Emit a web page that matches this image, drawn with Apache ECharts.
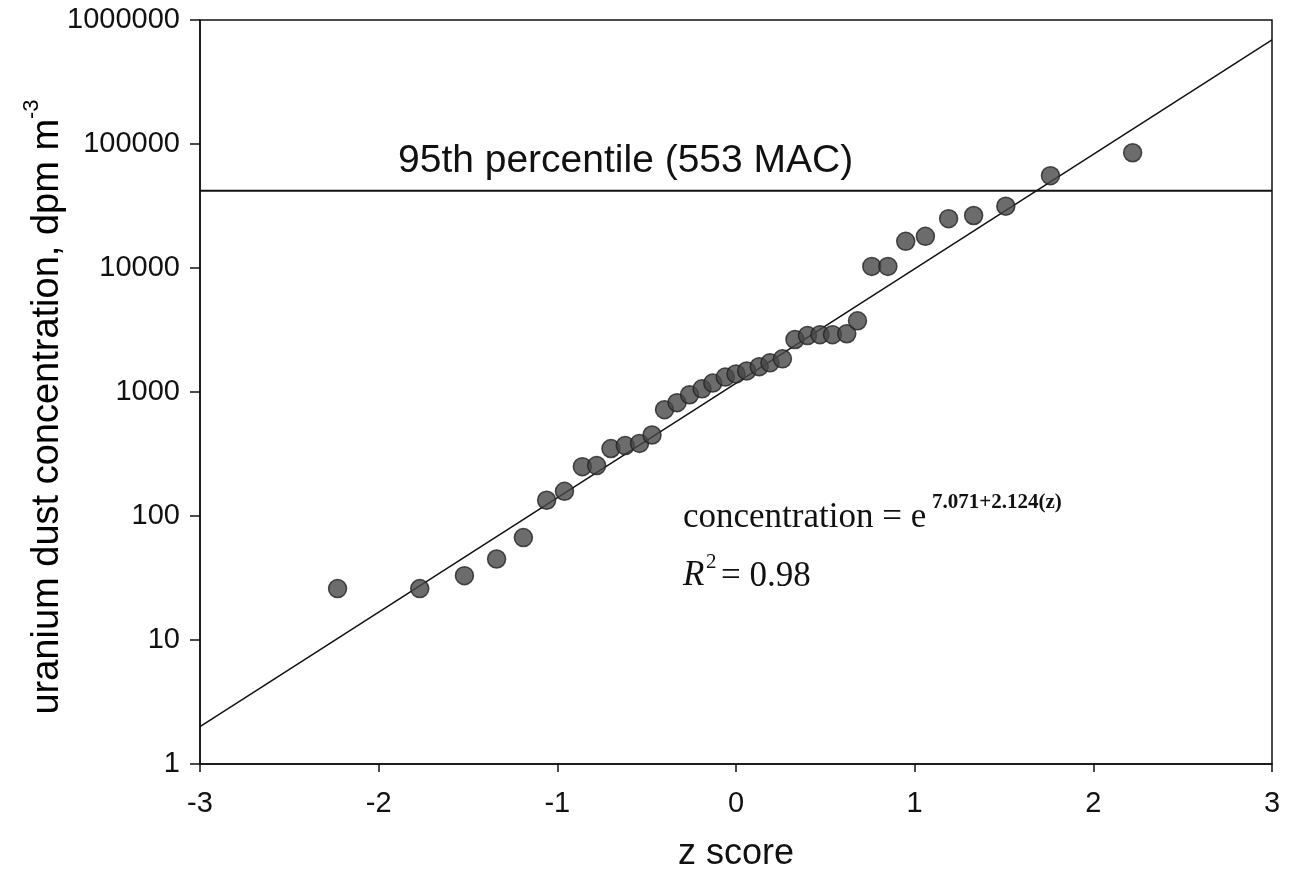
<!DOCTYPE html>
<html>
<head>
<meta charset="utf-8">
<title>uranium dust concentration vs z score</title>
<script src="https://cdn.jsdelivr.net/npm/echarts@6/dist/echarts.min.js"></script>
<style>
  html, body { margin: 0; padding: 0; background: #fff; }
  #chart { width: 1301px; height: 877px; }
</style>
</head>
<body>
<div id="chart"></div>
<script>
// normal scores of the samples (x) and measured concentrations (y)
var zScore = [-2.23, -1.77, -1.52, -1.34, -1.19, -1.06, -0.96, -0.86, -0.78, -0.70,
  -0.62, -0.54, -0.47, -0.40, -0.33, -0.26, -0.19, -0.13, -0.06, 0.00,
  0.06, 0.13, 0.19, 0.26, 0.33, 0.40, 0.47, 0.54, 0.62, 0.68,
  0.76, 0.85, 0.95, 1.06, 1.19, 1.33, 1.51, 1.76, 2.22];
var concentration = [26, 26, 33, 45, 67, 134, 158, 250, 255, 350,
  370, 385, 450, 720, 820, 950, 1060, 1180, 1320, 1400,
  1480, 1600, 1720, 1850, 2650, 2850, 2900, 2900, 2950, 3750,
  10300, 10300, 16400, 18000, 25000, 26500, 31500, 55500, 85000];

// fitted line end points
var fitZ = [-3, 3];
var fitConc = [2.0, 690000];

// 95th percentile level
var p95Z = [-3, 3];
var p95Conc = [42000, 42000];

var xTicks = [-3, -2, -1, 0, 1, 2, 3];
var yTicks = [1, 10, 100, 1000, 10000, 100000, 1000000];

var scatterData = zScore.map(function (z, i) { return [z, concentration[i]]; });
var fitData = fitZ.map(function (z, i) { return [z, fitConc[i]]; });
var p95Data = p95Z.map(function (z, i) { return [z, p95Conc[i]]; });

var sans = '"Liberation Sans", Arial, sans-serif';
var serif = '"Liberation Serif", "Times New Roman", serif';

var myChart = echarts.init(document.getElementById('chart'));
myChart.setOption({
  animation: false,
  backgroundColor: '#fff',
  grid: {
    left: 200,
    right: 29,
    top: 20,
    bottom: 107,
    show: true,
    borderColor: '#111',
    borderWidth: 1.5
  },
  xAxis: {
    type: 'value',
    min: -3,
    max: 3,
    interval: 1,
    name: 'z score',
    nameLocation: 'middle',
    nameGap: 72,
    nameTextStyle: { fontFamily: sans, fontSize: 36, color: '#111' },
    axisLine: { show: true, onZero: false, lineStyle: { color: '#111', width: 1.5 } },
    axisTick: { show: true, inside: false, length: 8, lineStyle: { color: '#111', width: 1.5 } },
    axisLabel: {
      margin: 25, fontFamily: sans, fontSize: 29, color: '#111',
      formatter: function (v) { return xTicks.indexOf(v) >= 0 ? String(v) : ''; }
    },
    splitLine: { show: false }
  },
  yAxis: {
    type: 'log',
    logBase: 10,
    min: 1,
    max: 1000000,
    axisLine: { show: true, onZero: false, lineStyle: { color: '#111', width: 1.5 } },
    axisTick: { show: true, inside: false, length: 10, lineStyle: { color: '#111', width: 1.5 } },
    minorTick: { show: false },
    axisLabel: {
      margin: 20, fontFamily: sans, fontSize: 29, color: '#111',
      formatter: function (v) { return yTicks.indexOf(v) >= 0 ? String(v) : ''; }
    },
    splitLine: { show: false }
  },
  graphic: [
    {
      type: 'text',
      x: 44,
      y: 407,
      rotation: Math.PI / 2,
      style: {
        text: '{a|uranium dust concentration, dpm m}{b|-3}',
        align: 'center',
        verticalAlign: 'middle',
        rich: {
          a: { fontFamily: sans, fontSize: 38, color: '#111', lineHeight: 46, verticalAlign: 'bottom' },
          b: { fontFamily: sans, fontSize: 22, color: '#111', verticalAlign: 'top' }
        }
      }
    },
    {
      type: 'text', x: 398, y: 161,
      style: { text: '95th percentile (553 MAC)', font: '39px ' + sans, fill: '#111', verticalAlign: 'middle' }
    },
    {
      type: 'text', x: 683, y: 518,
      style: { text: 'concentration = e', font: '35px ' + serif, fill: '#111', verticalAlign: 'middle' }
    },
    {
      type: 'text', x: 932, y: 503,
      style: { text: '7.071+2.124(z)', font: 'bold 21px ' + serif, fill: '#111', verticalAlign: 'middle' }
    },
    {
      type: 'text', x: 683, y: 576,
      style: { text: 'R', font: 'italic 35px ' + serif, fill: '#111', verticalAlign: 'middle' }
    },
    {
      type: 'text', x: 706, y: 562,
      style: { text: '2', font: '21px ' + serif, fill: '#111', verticalAlign: 'middle' }
    },
    {
      type: 'text', x: 721, y: 577,
      style: { text: '= 0.98', font: '35px ' + serif, fill: '#111', verticalAlign: 'middle' }
    }
  ],
  series: [
    {
      name: '95th percentile',
      type: 'line',
      data: p95Data,
      symbol: 'none',
      lineStyle: { color: '#111', width: 2 },
      z: 2
    },
    {
      name: 'fit',
      type: 'line',
      data: fitData,
      symbol: 'none',
      lineStyle: { color: '#111', width: 1.5 },
      z: 2
    },
    {
      name: 'samples',
      type: 'scatter',
      data: scatterData,
      symbol: 'circle',
      symbolSize: 18,
      itemStyle: { color: '#474747', borderColor: '#222', borderWidth: 1.5 },
      z: 3
    }
  ]
});
</script>
</body>
</html>
